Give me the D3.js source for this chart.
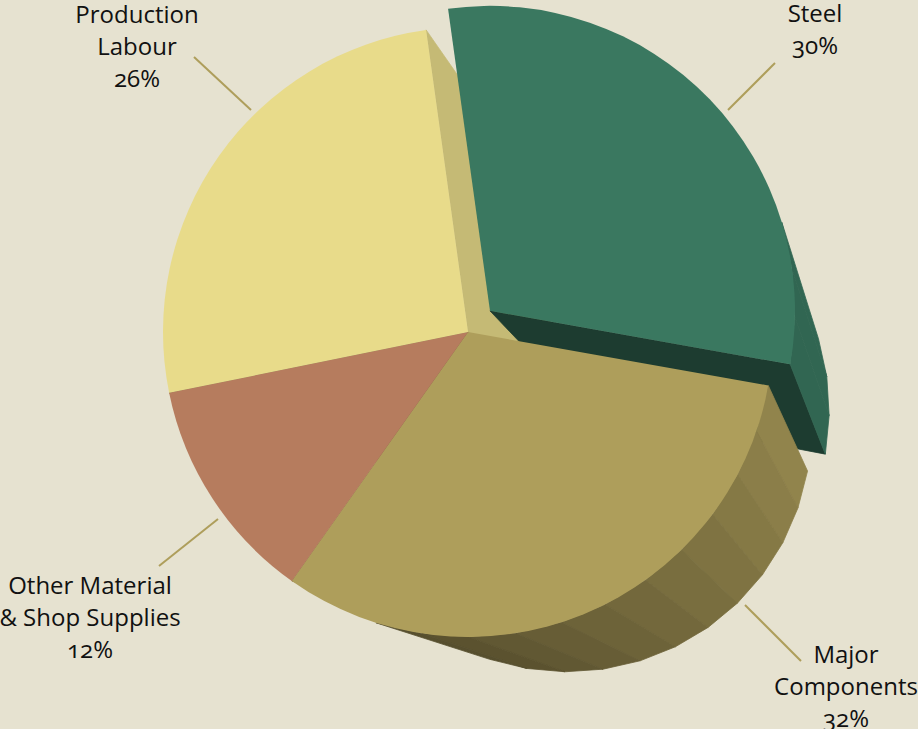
<!DOCTYPE html>
<html>
<head>
<meta charset="utf-8">
<script src="https://cdn.jsdelivr.net/npm/d3@7"></script>
<style>
  html, body { margin: 0; padding: 0; background: #e6e2d0; overflow: hidden; }
  text { font-family: "Open Sans", "Noto Sans", sans-serif; font-feature-settings: "onum" 1; fill: #111; }
</style>
</head>
<body>
<svg id="chart" width="918" height="729"></svg>
<script>
// Cost breakdown shown as an extruded pie with the Steel slice pulled out.
const categories = ["Steel", "Major Components", "Other Material & Shop Supplies", "Production Labour"];
const shares = [30, 32, 12, 26];
const sliceColors = ["#3a7860", "#ae9e5b", "#b67c5e", "#e8db8a"];
const labelLines = [
  ["Steel", "30%"],
  ["Major", "Components", "32%"],
  ["Other Material", "& Shop Supplies", "12%"],
  ["Production", "Labour", "26%"]
];

// Pie geometry and the perspective used for the extrusion.
const centre = { x: 468, y: 332 };
const radius = 305;
const firstAngle = -7.9 * Math.PI / 180;
const pulledOut = { Steel: 30.5 };
const vanish = { x: 975, y: 820 };
const depth = 0.19;
const skew = 0.01;
const facetStep = 9 * Math.PI / 180;

// Label blocks and leader lines, one per slice in the same order as the data.
const labelPlace = [
  { x: 815, y: 22, lead: [775, 63, 728, 110] },
  { x: 846, y: 663, lead: [801, 661, 745, 605] },
  { x: 90, y: 594, lead: [159, 566, 218, 519] },
  { x: 137, y: 23, lead: [194, 57, 251, 110] }
];

const svg = d3.select("#chart");

const slices = d3.pie().sort(null)
  .startAngle(firstAngle).endAngle(firstAngle + 2 * Math.PI)(shares)
  .map((s, i) => {
    const mid = (s.startAngle + s.endAngle) / 2;
    const off = pulledOut[categories[i]] || 0;
    return {
      ...s,
      name: categories[i],
      color: sliceColors[i],
      cx: centre.x + off * Math.sin(mid),
      cy: centre.y - off * Math.cos(mid)
    };
  });

const rim = (s, a) => [s.cx + radius * Math.sin(a), s.cy - radius * Math.cos(a)];
const sink = p => [
  p[0] + depth * (vanish.x - p[0]),
  p[1] + depth * (vanish.y - p[1]) + skew * (p[0] - centre.x)
];
const area = q => d3.polygonArea(q);

// Wall brightness depends on which way the wall faces, measured clockwise from straight up.
function shade(color, facing) {
  let deg = (facing * 180 / Math.PI) % 360;
  if (deg < 0) deg += 360;
  const k = deg <= 100 ? 0.85 : Math.max(0.5, 0.85 - (deg - 100) * 0.0039);
  const c = d3.rgb(color);
  return d3.rgb(c.r * k, c.g * k, c.b * k).formatHex();
}

const quadPath = d3.line();
const walls = svg.append("g");

function drawWall(quad, fill) {
  walls.append("path")
    .attr("d", quadPath(quad) + "Z")
    .attr("fill", fill)
    .attr("stroke", fill)
    .attr("stroke-width", 0.8)
    .attr("stroke-linejoin", "round");
}

// Radial walls first, last slice first so the pulled-out slice stays in front.
// A wall is only drawn when it faces the viewer.
slices.slice().reverse().forEach(s => {
  const apex = [s.cx, s.cy];
  const sA = rim(s, s.startAngle), eA = rim(s, s.endAngle);
  const startWall = [apex, sA, sink(sA), sink(apex)];
  const endWall = [apex, eA, sink(eA), sink(apex)];
  if (area(startWall) > 0) drawWall(startWall, shade(s.color, s.startAngle - Math.PI / 2));
  if (area(endWall) < 0) drawWall(endWall, shade(s.color, s.endAngle + Math.PI / 2));
});

// Outer rim, split into flat facets.
slices.forEach(s => {
  const span = s.endAngle - s.startAngle;
  const n = Math.round(span / facetStep);
  d3.range(n).forEach(j => {
    const a0 = s.startAngle + span * j / n;
    const a1 = s.startAngle + span * (j + 1) / n;
    const p0 = rim(s, a0), p1 = rim(s, a1);
    const quad = [p0, p1, sink(p1), sink(p0)];
    if (area(quad) > 0) drawWall(quad, shade(s.color, (a0 + a1) / 2));
  });
});

// Top faces go on last so they cover the walls behind them.
const arc = d3.arc().innerRadius(0).outerRadius(radius);
svg.append("g").selectAll("path").data(slices).join("path")
  .attr("transform", d => `translate(${d.cx},${d.cy})`)
  .attr("d", arc)
  .attr("fill", d => d.color);

svg.append("g").selectAll("line").data(labelPlace).join("line")
  .attr("x1", d => d.lead[0]).attr("y1", d => d.lead[1])
  .attr("x2", d => d.lead[2]).attr("y2", d => d.lead[3])
  .attr("stroke", "#ae9e5b").attr("stroke-width", 2);

const labels = svg.append("g").selectAll("text").data(labelPlace).join("text")
  .attr("text-anchor", "middle")
  .attr("font-size", 24);
labels.each(function (d, i) {
  d3.select(this).selectAll("tspan").data(labelLines[i]).join("tspan")
    .attr("x", d.x)
    .attr("y", (t, k) => d.y + k * 32)
    .text(t => t);
});
</script>
</body>
</html>
